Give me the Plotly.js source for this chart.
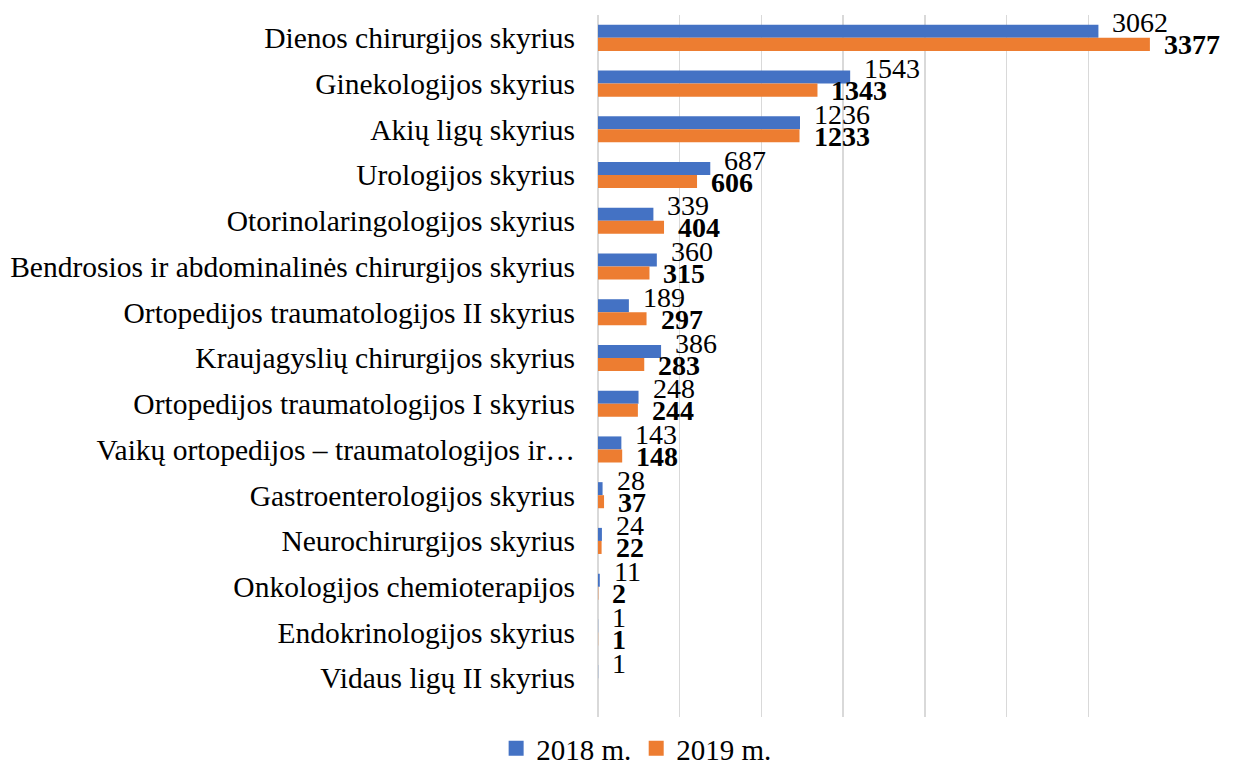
<!DOCTYPE html>
<html>
<head>
<meta charset="utf-8">
<script src="https://cdn.plot.ly/plotly-3.0.1.min.js"></script>
<style>html,body{margin:0;padding:0;background:#fff;}#chart{width:1241px;height:763px;}</style>
</head>
<body>
<div id="chart"></div>
<script>
var categories = [
  "Dienos chirurgijos skyrius",
  "Ginekologijos skyrius",
  "Akių ligų skyrius",
  "Urologijos skyrius",
  "Otorinolaringologijos skyrius",
  "Bendrosios ir abdominalinės chirurgijos skyrius",
  "Ortopedijos traumatologijos II skyrius",
  "Kraujagyslių chirurgijos skyrius",
  "Ortopedijos traumatologijos I skyrius",
  "Vaikų ortopedijos – traumatologijos ir…",
  "Gastroenterologijos skyrius",
  "Neurochirurgijos skyrius",
  "Onkologijos chemioterapijos",
  "Endokrinologijos skyrius",
  "Vidaus ligų II skyrius"
];
var values2018 = [3062, 1543, 1236, 687, 339, 360, 189, 386, 248, 143, 28, 24, 11, 1, 1];
var values2019 = [3377, 1343, 1233, 606, 404, 315, 297, 283, 244, 148, 37, 22, 2, 1, null];
var seriesNames = ["2018 m.", "2019 m."];
var seriesColors = ["#4472C4", "#ED7D31"];

var font = "Liberation Serif, Times New Roman, serif";
var labelSize = 28;

var traces = [
  {
    type: "bar", orientation: "h", name: seriesNames[0],
    y: categories, x: values2018,
    marker: {color: seriesColors[0]},
    showlegend: false, hoverinfo: "x+y"
  },
  {
    type: "bar", orientation: "h", name: seriesNames[1],
    y: categories, x: values2019,
    marker: {color: seriesColors[1]},
    showlegend: false, hoverinfo: "x+y"
  },
  {
    type: "scatter", mode: "markers", name: seriesNames[0],
    x: [null], y: [null],
    marker: {color: seriesColors[0], symbol: "square", size: 15},
    showlegend: true
  },
  {
    type: "scatter", mode: "markers", name: seriesNames[1],
    x: [null], y: [null],
    marker: {color: seriesColors[1], symbol: "square", size: 15},
    showlegend: true
  }
];

var annotations = [];
categories.forEach(function(cat, i){
  if (values2018[i] !== null) {
    annotations.push({
      x: values2018[i], y: cat, xref: "x", yref: "y",
      text: String(values2018[i]), showarrow: false,
      xanchor: "left", yanchor: "middle", xshift: 12, yshift: 15,
      font: {family: font, size: labelSize, color: "#000"}
    });
  }
  if (values2019[i] !== null) {
    annotations.push({
      x: values2019[i], y: cat, xref: "x", yref: "y",
      text: "<b>" + values2019[i] + "</b>", showarrow: false,
      xanchor: "left", yanchor: "middle", xshift: 12, yshift: -7,
      font: {family: font, size: labelSize, color: "#000"}
    });
  }
});

var layout = {
  width: 1241, height: 763,
  margin: {l: 598, r: 71, t: 15, b: 46},
  paper_bgcolor: "#fff", plot_bgcolor: "#fff",
  barmode: "group", bargap: 0.43, bargroupgap: 0,
  font: {family: font, size: 29, color: "#000"},
  annotations: annotations,
  xaxis: {
    range: [0, 3500], dtick: 500, showticklabels: false,
    showgrid: true, gridcolor: "#d9d9d9", gridwidth: 1.5,
    zeroline: true, zerolinecolor: "#d9d9d9", zerolinewidth: 1.5,
    fixedrange: true
  },
  yaxis: {
    type: "category", range: [14.85, -0.5],
    showgrid: false, zeroline: false, showline: false,
    ticks: "", ticklabelstandoff: 22,
    tickfont: {family: font, size: 29.5, color: "#000"},
    fixedrange: true
  },
  showlegend: true,
  legend: {
    orientation: "h", xref: "container", yref: "container",
    x: 0.513, xanchor: "center", y: 0.019, yanchor: "middle",
    font: {family: font, size: 29, color: "#000"},
    itemwidth: 30, traceorder: "normal", tracegroupgap: 0
  }
};

Plotly.newPlot("chart", traces, layout, {displayModeBar: false, staticPlot: true});
</script>
</body>
</html>
